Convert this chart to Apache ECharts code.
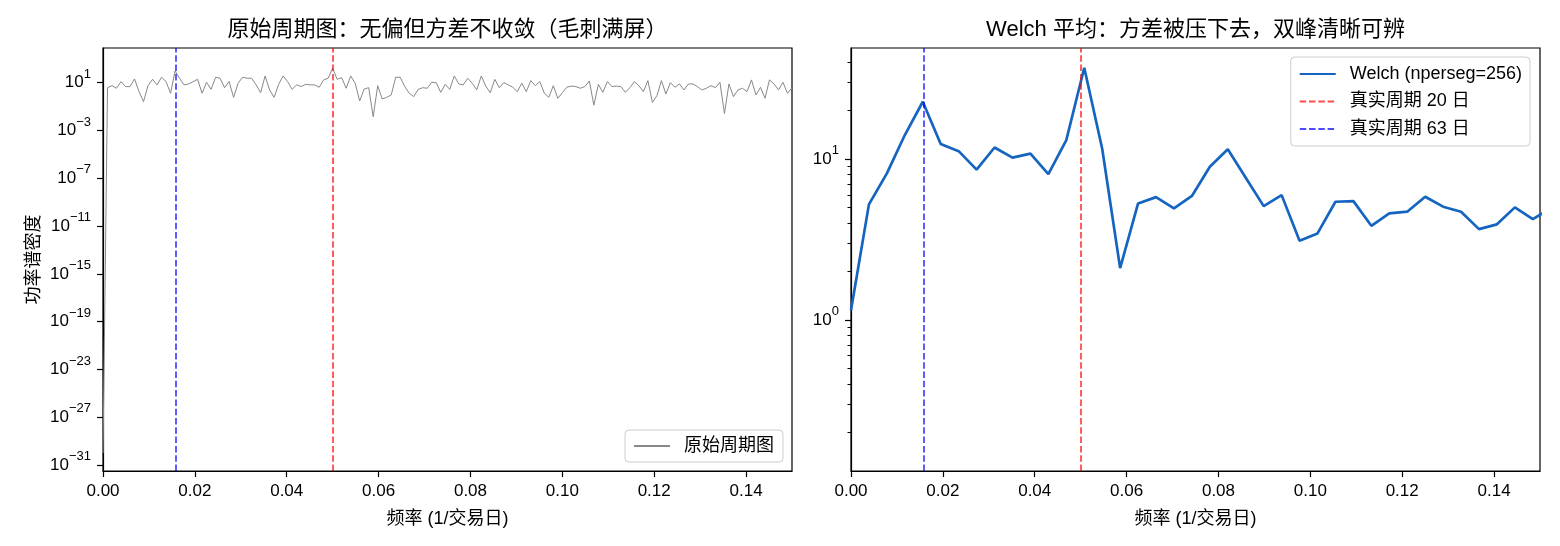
<!DOCTYPE html>
<html>
<head>
<meta charset="utf-8">
<script src="https://cdn.jsdelivr.net/npm/echarts@6/dist/echarts.min.js"></script>
<style>
html,body{margin:0;padding:0;background:#fff;}
#chart{width:1560px;height:546px;}
</style>
</head>
<body>
<div id="chart"></div>
<script>
// ---------- data ----------
const rawFreqStep = 1 / 1020;          // raw periodogram frequency resolution
const rawPsd = [
  1e-30, 3.8, 5.6, 3.4, 12.3, 4.7, 4.7, 20.4, 1.78, 0.26,
  5.6, 19.1, 6.5, 28.2, 12.3, 1.29, 95.5, 23.4, 6.5, 7.8,
  12.0, 19.1, 1.29, 10.7, 2.75, 28.2, 23.4, 3.8, 12.3, 0.59,
  8.9, 28.2, 23.4, 23.4, 6.5, 1.45, 36.3, 2.45, 0.59, 7.2,
  36.3, 12.3, 2.75, 6.5, 4.7, 7.2, 6.5, 6.5, 4.1, 17.0,
  23.4, 162, 19.1, 26.3, 3.4, 36.3, 8.9, 0.29, 2.95, 3.8,
  0.014, 5.6, 0.43, 0.59, 0.93, 28.2, 28.2, 4.7, 1.29, 0.68,
  2.75, 3.8, 3.4, 10.7, 10.0, 1.55, 7.2, 2.75, 36.3, 7.8,
  6.5, 23.4, 8.9, 2.45, 36.3, 5.2, 1.45, 19.1, 3.8, 10.0,
  6.5, 4.1, 1.78, 8.9, 1.78, 14.8, 5.6, 12.3, 1.29, 0.59,
  5.6, 0.49, 1.45, 4.1, 5.2, 4.7, 3.4, 4.7, 13.8, 0.13,
  7.2, 1.55, 12.3, 4.7, 5.2, 4.7, 1.55, 3.8, 12.3, 5.6,
  1.78, 14.8, 0.22, 0.81, 14.8, 1.12, 10.0, 4.1, 7.8, 2.45,
  7.8, 7.8, 4.7, 2.45, 3.4, 5.6, 3.8, 10.7, 0.026, 7.8,
  0.68, 2.45, 3.4, 1.78, 17.0, 0.93, 4.1, 0.49, 17.0, 7.8,
  2.45, 10.7, 1.29, 3.8
];
const welchFreqStep = 1 / 256;         // nperseg = 256
const welchPsd = [
  1.15, 5.23, 8.15, 14.1, 22.7, 12.4, 11.2, 8.6, 11.8, 10.2,
  10.8, 8.07, 13.1, 36.9, 11.6, 2.1, 5.3, 5.8, 4.94, 5.9,
  8.96, 11.5, 7.65, 5.1, 5.97, 3.11, 3.45, 5.43, 5.48, 3.85,
  4.6, 4.71, 5.83, 5.06, 4.71, 3.67, 3.93, 5.01, 4.24, 4.94
];
const period20Freq = 1 / 20;
const period63Freq = 1 / 63;

const xTicks = [0, 0.02, 0.04, 0.06, 0.08, 0.10, 0.12, 0.14];
const leftYTicks = [1e-31, 1e-27, 1e-23, 1e-19, 1e-15, 1e-11, 1e-7, 1e-3, 1e1];
const rightYTicks = [1, 10];
const rightYMinorTicks = [0.2, 0.3, 0.4, 0.5, 0.6, 0.7, 0.8, 0.9, 2, 3, 4, 5, 6, 7, 8, 9, 20, 30, 40];

const titles = ['原始周期图：无偏但方差不收敛（毛刺满屏）', 'Welch 平均：方差被压下去，双峰清晰可辨'];
const xName = '频率 (1/交易日)';
const yName = '功率谱密度';
const rawName = '原始周期图';
const welchName = 'Welch (nperseg=256)';
const line20Name = '真实周期 20 日';
const line63Name = '真实周期 63 日';

// ---------- chart ----------
const FONT = '"Liberation Sans", "Noto Sans CJK SC", sans-serif';
const RED = 'rgba(255,0,0,0.7)';
const BLUE = 'rgba(0,0,255,0.7)';
const DASH = [6.5, 2.8];

function sciLabel(v) {
  const e = Math.round(Math.log10(v));
  const s = e < 0 ? '\u2212' + (-e) : String(e);
  return '{b|10}{s|' + s + '}';
}
const sciRich = {
  b: { fontSize: 17, lineHeight: 30, fontFamily: FONT, color: '#000' },
  s: { fontSize: 13, lineHeight: 13, verticalAlign: 'top', fontFamily: FONT, color: '#000' }
};

const G = [
  { left: 103, top: 48, width: 689, height: 423 },
  { left: 851, top: 48, width: 689, height: 423 }
];

function xAxisFor(i) {
  return {
    type: 'value', gridIndex: i, min: 0, max: 0.15,
    name: xName, nameLocation: 'middle', nameGap: 39,
    nameTextStyle: { fontSize: 18, fontFamily: FONT, color: '#000' },
    axisLine: { show: true, lineStyle: { color: '#000', width: 1.2 } },
    axisTick: { show: true, customValues: xTicks, length: 6, lineStyle: { color: '#000', width: 1.2 } },
    axisLabel: { customValues: xTicks, formatter: v => v.toFixed(2), fontSize: 17, fontFamily: FONT, color: '#000', margin: 12 },
    splitLine: { show: false }
  };
}

const rawData = rawPsd.map((v, i) => [i * rawFreqStep, v]);
const welchData = welchPsd.map((v, i) => [i * welchFreqStep, v]);

function vline(name, freq, color, xi, yi) {
  return {
    name: name, type: 'line', xAxisIndex: xi, yAxisIndex: yi, data: [],
    symbol: 'none', color: color,
    lineStyle: { color: color, width: 1.8, type: DASH },
    markLine: {
      silent: true, symbol: 'none', precision: 8, label: { show: false },
      lineStyle: { color: color, width: 1.8, type: DASH },
      data: [{ xAxis: freq }]
    }
  };
}

const legendCommon = {
  orient: 'vertical', itemWidth: 36, itemHeight: 14,
  backgroundColor: 'rgba(255,255,255,0.8)', borderColor: '#ccc', borderWidth: 1, borderRadius: 4,
  itemStyle: { opacity: 0, borderWidth: 0 },
  textStyle: { fontSize: 18, fontFamily: FONT, color: '#000', padding: [0, 0, 0, 9] }
};

const chart = echarts.init(document.getElementById('chart'), null, { renderer: 'canvas' });
chart.setOption({
  backgroundColor: '#fff',
  animation: false,
  title: [
    { text: titles[0], left: 447.5, textAlign: 'center', top: 19, padding: 0,
      textStyle: { fontSize: 22, fontWeight: 'normal', fontFamily: FONT, color: '#000' } },
    { text: titles[1], left: 1195.5, textAlign: 'center', top: 19, padding: 0,
      textStyle: { fontSize: 22, fontWeight: 'normal', fontFamily: FONT, color: '#000' } }
  ],
  grid: G.map(g => Object.assign({ show: true, borderColor: '#000', borderWidth: 1.2, backgroundColor: 'transparent' }, g)),
  legend: [
    Object.assign({}, legendCommon, {
      data: [rawName], right: 777, bottom: 84, padding: [7, 9, 7, 8]
    }),
    Object.assign({}, legendCommon, {
      data: [welchName, line20Name, line63Name], right: 30, top: 57, itemGap: 9.5, padding: [8, 8, 8, 8]
    })
  ],
  xAxis: [xAxisFor(0), xAxisFor(1)],
  yAxis: [
    {
      type: 'log', logBase: 10, gridIndex: 0, position: 'left',
      min: Math.pow(10, -31.5), max: Math.pow(10, 3.9),
      name: yName, nameLocation: 'middle', nameGap: 60, nameRotate: 90,
      nameTextStyle: { fontSize: 18, fontFamily: FONT, color: '#000' },
      axisLine: { show: true, lineStyle: { color: '#000', width: 1.2 } },
      axisTick: { show: true, customValues: leftYTicks, length: 6, lineStyle: { color: '#000', width: 1.2 } },
      axisLabel: { customValues: leftYTicks, formatter: sciLabel, rich: sciRich, margin: 12 },
      splitLine: { show: false }, minorTick: { show: false }
    },
    {
      type: 'log', logBase: 10, gridIndex: 1, position: 'left',
      min: Math.pow(10, -0.938), max: Math.pow(10, 1.69),
      axisLine: { show: true, lineStyle: { color: '#000', width: 1.2 } },
      axisTick: { show: true, customValues: rightYTicks, length: 6, lineStyle: { color: '#000', width: 1.2 } },
      axisLabel: { customValues: rightYTicks, formatter: sciLabel, rich: sciRich, margin: 12 },
      splitLine: { show: false }, minorTick: { show: false }
    },
    {
      type: 'log', logBase: 10, gridIndex: 1, position: 'left', offset: 0,
      min: Math.pow(10, -0.938), max: Math.pow(10, 1.69),
      axisLine: { show: false },
      axisTick: { show: true, customValues: rightYMinorTicks, length: 3.5, lineStyle: { color: '#000', width: 1 } },
      axisLabel: { show: false },
      splitLine: { show: false }, minorTick: { show: false }
    }
  ],
  series: [
    {
      name: rawName, type: 'line', xAxisIndex: 0, yAxisIndex: 0, data: rawData,
      symbol: 'none', color: '#888888', lineStyle: { color: '#888888', width: 1 }, clip: true
    },
    vline('L20', period20Freq, RED, 0, 0),
    vline('L63', period63Freq, BLUE, 0, 0),
    {
      name: welchName, type: 'line', xAxisIndex: 1, yAxisIndex: 1, data: welchData,
      symbol: 'none', color: '#1565C0', lineStyle: { color: '#1565C0', width: 2.7 }, clip: true
    },
    vline(line20Name, period20Freq, RED, 1, 1),
    vline(line63Name, period63Freq, BLUE, 1, 1)
  ]
});
</script>
</body>
</html>
